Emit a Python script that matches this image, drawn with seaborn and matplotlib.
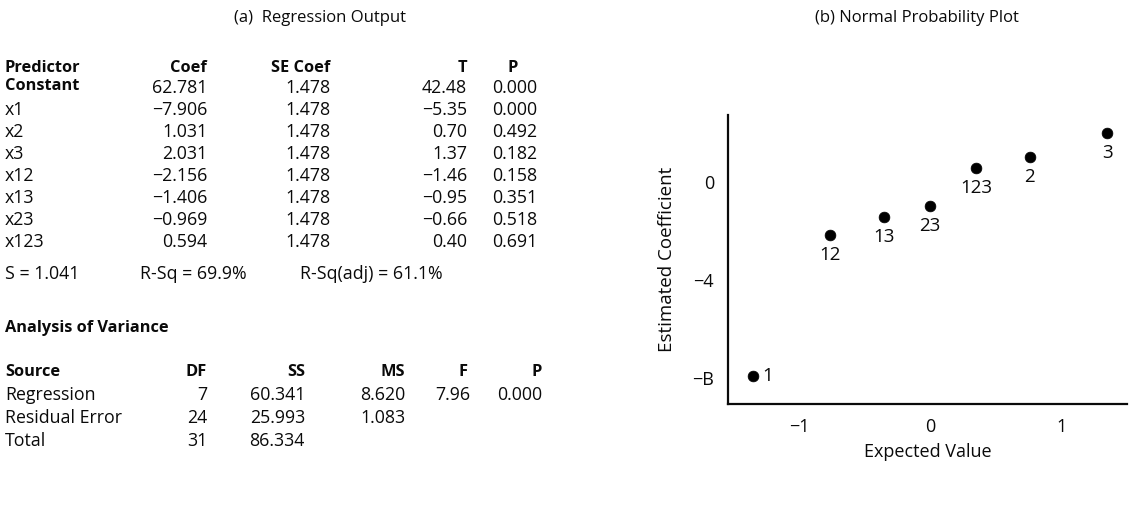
import matplotlib
matplotlib.use("Agg")
import matplotlib.pyplot as plt
import seaborn as sns
import pandas as pd

# regression table
predictors = ["Constant", "x1", "x2", "x3", "x12", "x13", "x23", "x123"]
coef = ["62.781", "\u22127.906", "1.031", "2.031", "\u22122.156", "\u22121.406", "\u22120.969", "0.594"]
se_coef = ["1.478"] * 8
t_vals = ["42.48", "\u22125.35", "0.70", "1.37", "\u22121.46", "\u22120.95", "\u22120.66", "0.40"]
p_vals = ["0.000", "0.000", "0.492", "0.182", "0.158", "0.351", "0.518", "0.691"]
fit_stats = ["S = 1.041", "R-Sq = 69.9%", "R-Sq(adj) = 61.1%"]

# analysis of variance
sources = ["Regression", "Residual Error", "Total"]
df_vals = ["7", "24", "31"]
ss_vals = ["60.341", "25.993", "86.334"]
ms_vals = ["8.620", "1.083", ""]
f_vals = ["7.96", "", ""]
pa_vals = ["0.000", "", ""]

# normal probability plot
terms = ["1", "12", "13", "23", "123", "2", "3"]
expected = [-1.35, -0.76, -0.35, 0.0, 0.35, 0.76, 1.35]
estimated = [-7.906, -2.156, -1.406, -0.969, 0.594, 1.031, 2.031]

sns.set_style("white")
plt.rcParams["font.family"] = ["Open Sans", "DejaVu Sans"]

W, H = 1133, 525
fig = plt.figure(figsize=(W / 100, H / 100), dpi=100)
fs = 12.8
fs_bold = 11.8
ink = "#0a0a0a"


def txt(x, y, s, ha="left", bold=False, size=None):
    if size is None:
        size = fs_bold if bold else fs
    fig.text(x / W, 1 - y / H, s, ha=ha, va="center", fontsize=size,
             fontweight="bold" if bold else 500, color=ink)


txt(320, 18, "(a)  Regression Output", ha="center", size=12)

# upper table
txt(5, 68, "Predictor", bold=True)
txt(207, 68, "Coef", ha="right", bold=True)
txt(330, 68, "SE Coef", ha="right", bold=True)
txt(467, 68, "T", ha="right", bold=True)
txt(513, 68, "P", ha="center", bold=True)
for i, name in enumerate(predictors):
    y = 88 + 22 * i
    txt(5, y - (2 if i == 0 else 0), name, bold=(i == 0))
    txt(207, y, coef[i], ha="right")
    txt(330, y, se_coef[i], ha="right")
    txt(467, y, t_vals[i], ha="right")
    txt(537, y, p_vals[i], ha="right")

txt(5, 274, fit_stats[0])
txt(140, 274, fit_stats[1])
txt(300, 274, fit_stats[2])

txt(5, 328, "Analysis of Variance", bold=True)
txt(5, 372, "Source", bold=True)
txt(207, 372, "DF", ha="right", bold=True)
txt(305, 372, "SS", ha="right", bold=True)
txt(405, 372, "MS", ha="right", bold=True)
txt(468, 372, "F", ha="right", bold=True)
txt(542, 372, "P", ha="right", bold=True)
for i, name in enumerate(sources):
    y = 395 + 23 * i
    txt(5, y, name)
    txt(207, y, df_vals[i], ha="right")
    txt(305, y, ss_vals[i], ha="right")
    txt(405, y, ms_vals[i], ha="right")
    txt(470, y, f_vals[i], ha="right")
    txt(542, y, pa_vals[i], ha="right")

# probability plot
txt(917, 18, "(b) Normal Probability Plot", ha="center", size=12)
ax = fig.add_axes([728 / W, 1 - 404 / H, (1127 - 728) / W, (404 - 115) / H])
data = pd.DataFrame({"expected": expected, "estimated": estimated, "term": terms})
sns.scatterplot(data=data, x="expected", y="estimated", ax=ax, color="black",
                s=60, edgecolor="black", linewidth=0.5, zorder=3)
for _, r in data.iterrows():
    if r["term"] == "1":
        ax.annotate(r["term"], (r["expected"], r["estimated"]), xytext=(7, 0),
                    textcoords="offset points", ha="left", va="center",
                    fontsize=13.5, color=ink)
    else:
        ax.annotate(r["term"], (r["expected"], r["estimated"]), xytext=(0, -8),
                    textcoords="offset points", ha="center", va="top",
                    fontsize=13.5, color=ink)

ax.set_xlim(-1.54, 1.5)
ax.set_ylim(-9.05, 2.75)
ax.set_xticks([-1, 0, 1])
ax.set_xticklabels(["\u22121", "0", "1"], fontsize=13)
ax.set_yticks([-8, -4, 0])
ax.set_yticklabels(["\u2212B", "\u22124", "0"], fontsize=13)
ax.tick_params(axis="x", direction="in", length=9, width=1.3, pad=10, colors=ink)
ax.tick_params(axis="y", direction="out", length=7, width=1.3, pad=3, colors=ink)
sns.despine(ax=ax)
for sp in ("left", "bottom"):
    ax.spines[sp].set_linewidth(1.6)
    ax.spines[sp].set_color(ink)
ax.set_xlabel("Expected Value", fontsize=13, labelpad=5, color=ink)
ax.set_ylabel("Estimated Coefficient", fontsize=13.5, labelpad=12, color=ink)
ax.patch.set_alpha(0)

fig.savefig("out.png", dpi=100)
